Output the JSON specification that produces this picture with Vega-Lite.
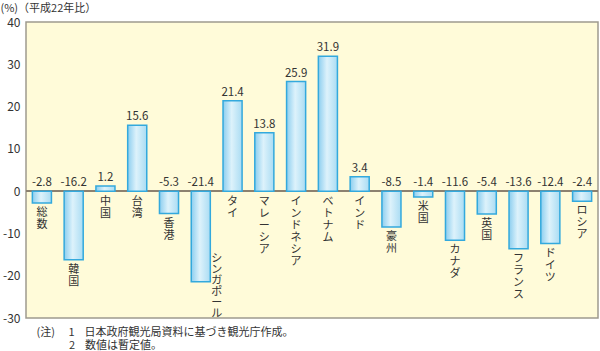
{
  "$schema": "https://vega.github.io/schema/vega-lite/v6.json",
  "width": 572,
  "height": 296,
  "autosize": {"type": "none"},
  "padding": {"left": 26, "top": 22, "right": 2, "bottom": 33},
  "background": "#ffffff",
  "config": {
    "font": "Noto Sans CJK JP",
    "view": {"fill": "#FFFBD9", "stroke": "#9E9A8E", "strokeWidth": 1.5}
  },
  "title": {
    "text": "2\u2002\u2009\u2009数値は暫定値。",
    "orient": "bottom",
    "anchor": "start",
    "frame": "group",
    "dx": 43,
    "offset": 3,
    "fontSize": 11,
    "fontWeight": "normal",
    "color": "#333333",
    "baseline": "top"
  },
  "data": {
    "values": [
      {"cat": "総数", "v": -2.8},
      {"cat": "韓国", "v": -16.2},
      {"cat": "中国", "v": 1.2},
      {"cat": "台湾", "v": 15.6},
      {"cat": "香港", "v": -5.3},
      {"cat": "シンガポール", "v": -21.4},
      {"cat": "タイ", "v": 21.4},
      {"cat": "マレーシア", "v": 13.8},
      {"cat": "インドネシア", "v": 25.9},
      {"cat": "ベトナム", "v": 31.9},
      {"cat": "インド", "v": 3.4},
      {"cat": "豪州", "v": -8.5},
      {"cat": "米国", "v": -1.4},
      {"cat": "カナダ", "v": -11.6},
      {"cat": "英国", "v": -5.4},
      {"cat": "フランス", "v": -13.6},
      {"cat": "ドイツ", "v": -12.4},
      {"cat": "ロシア", "v": -2.4}
    ]
  },
  "transform": [
    {"calculate": "split(datum.cat, '')", "as": "chars"}
  ],
  "encoding": {
    "x": {
      "field": "cat",
      "type": "nominal",
      "sort": null,
      "scale": {"paddingInner": 0.4, "paddingOuter": 0.2},
      "axis": {
        "labels": false,
        "ticks": false,
        "domain": false,
        "title": "(注)\u3000 1\u2002\u2009\u2009日本政府観光局資料に基づき観光庁作成。",
        "titleFontSize": 11,
        "titleFontWeight": "normal",
        "titleColor": "#333333",
        "titleAlign": "left",
        "titleAnchor": "start",
        "titleBaseline": "top",
        "titleX": 10,
        "titleY": 8
      }
    }
  },
  "layer": [
    {
      "mark": {"type": "rule", "color": "#8C8270", "strokeWidth": 1},
      "encoding": {"y": {"datum": 0, "type": "quantitative"}, "x": {"value": 0}, "x2": {"value": 572}}
    },
    {
      "mark": {
        "type": "bar",
        "stroke": "#33A9DD",
        "strokeWidth": 1.5,
        "color": {
          "gradient": "linear",
          "x1": 0, "y1": 0, "x2": 1, "y2": 0,
          "stops": [
            {"offset": 0, "color": "#8CCEEF"},
            {"offset": 0.45, "color": "#DDF2FB"},
            {"offset": 1, "color": "#AADCF3"}
          ]
        }
      },
      "encoding": {
        "y": {
          "field": "v",
          "type": "quantitative",
          "scale": {"domain": [-30, 40], "nice": false, "zero": true},
          "axis": {
            "values": [40, 30, 20, 10, 0, -10, -20, -30],
            "labelExpr": "'' + datum.value",
            "domain": false,
            "ticks": false,
            "labelPadding": 6,
            "labelFontSize": 12,
            "labelColor": "#333333",
            "gridColor": "#E8E3C8",
            "gridWidth": 1,
            "title": "(%)（平成22年比）",
            "titleAngle": 0,
            "titleFontSize": 11,
            "titleFontWeight": "normal",
            "titleColor": "#333333",
            "titleAlign": "left",
            "titleBaseline": "middle",
            "titleX": -26,
            "titleY": -14
          }
        }
      }
    },
    {
      "transform": [{"filter": "datum.v > 0"}],
      "mark": {"type": "text", "baseline": "bottom", "dy": -3, "fontSize": 11.5, "color": "#333333"},
      "encoding": {"y": {"field": "v", "type": "quantitative"}, "text": {"field": "v", "type": "nominal"}}
    },
    {
      "transform": [{"filter": "datum.v < 0"}],
      "mark": {"type": "text", "baseline": "bottom", "dy": -3, "fontSize": 11.5, "color": "#333333"},
      "encoding": {"y": {"datum": 0, "type": "quantitative"}, "text": {"field": "v", "type": "nominal"}}
    },
    {
      "transform": [{"filter": "datum.v > 0"}],
      "mark": {"type": "text", "baseline": "top", "dy": 5, "fontSize": 11, "lineHeight": 12, "color": "#333333"},
      "encoding": {"y": {"datum": 0, "type": "quantitative"}, "text": {"field": "chars", "type": "nominal"}}
    },
    {
      "transform": [{"filter": "datum.v < 0 && datum.cat != 'シンガポール'"}],
      "mark": {"type": "text", "baseline": "top", "dy": 4, "fontSize": 11, "lineHeight": 12, "color": "#333333"},
      "encoding": {"y": {"field": "v", "type": "quantitative"}, "text": {"field": "chars", "type": "nominal"}}
    },
    {
      "transform": [{"filter": "datum.cat == 'シンガポール'"}],
      "mark": {"type": "text", "baseline": "top", "dx": 16, "dy": 1, "fontSize": 11, "lineHeight": 11, "color": "#333333"},
      "encoding": {"y": {"datum": -14.5, "type": "quantitative"}, "text": {"field": "chars", "type": "nominal"}}
    }
  ]
}
